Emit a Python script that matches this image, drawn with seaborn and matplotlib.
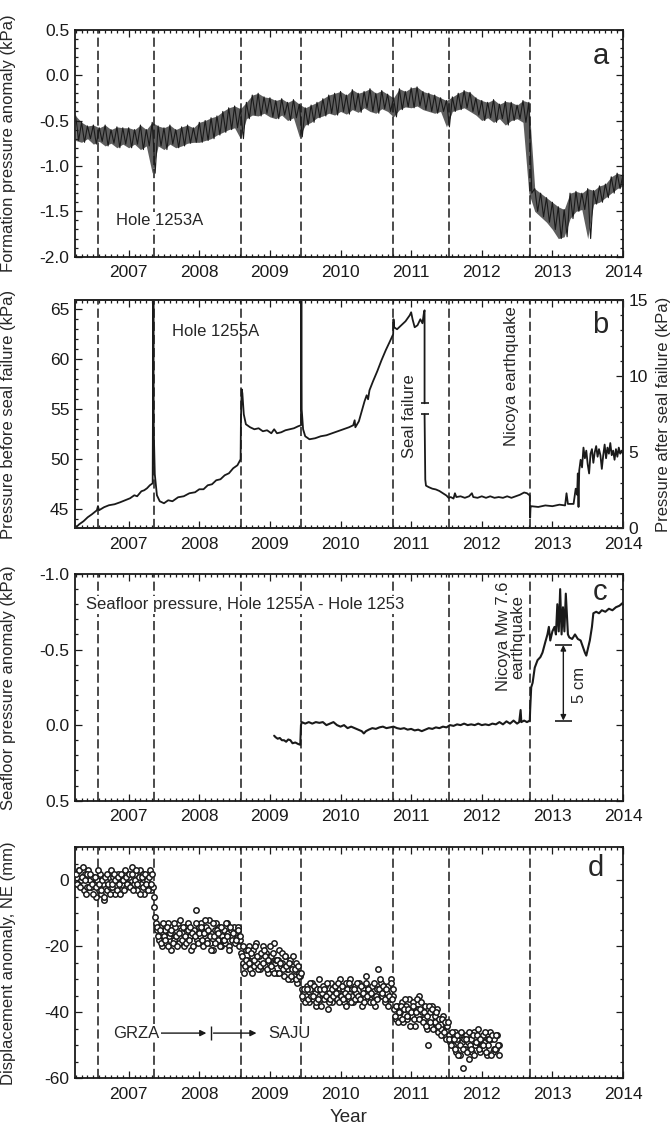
import numpy as np
import pandas as pd
import matplotlib
matplotlib.use("Agg")
import matplotlib.pyplot as plt
from matplotlib.ticker import MultipleLocator, FuncFormatter, FormatStrFormatter
import seaborn as sns

# ---------------------------------------------------------------------------
# Event dates (decimal years): slow-slip events and the 2012 Nicoya earthquake
event_years = [2006.564, 2007.352, 2008.588, 2009.442, 2010.745, 2011.533, 2012.685]

# (a) Hole 1253A formation pressure anomaly (kPa): monthly upper / lower swings
a_first_month = 2006.25
a_high = [-0.45, -0.52, -0.56, -0.55, -0.58, -0.55, -0.60, -0.57, -0.58,
          -0.58, -0.60, -0.55, -0.60, -0.52, -0.56, -0.58, -0.55, -0.60, -0.57, -0.55, -0.58,
          -0.52, -0.50, -0.47, -0.45, -0.40, -0.36, -0.34, -0.37, -0.30, -0.22, -0.20, -0.24,
          -0.25, -0.28, -0.26, -0.30, -0.27, -0.32, -0.36, -0.33, -0.30, -0.26, -0.22, -0.20,
          -0.18, -0.22, -0.16, -0.20, -0.18, -0.15, -0.20, -0.17, -0.21, -0.25, -0.15, -0.18,
          -0.14, -0.13, -0.18, -0.20, -0.22, -0.25, -0.28, -0.24, -0.20, -0.17, -0.19, -0.25,
          -0.28, -0.30, -0.27, -0.32, -0.29, -0.30, -0.33, -0.28, -0.30, -1.25, -1.30, -1.35,
          -1.40, -1.45, -1.48, -1.30, -1.28, -1.30, -1.25, -1.27, -1.22, -1.20, -1.12, -1.08,
          -1.10]
a_low = [-0.72, -0.74, -0.70, -0.76, -0.73, -0.78, -0.75, -0.80, -0.76,
         -0.80, -0.76, -0.82, -0.78, -1.08, -0.78, -0.82, -0.76, -0.80, -0.78, -0.75, -0.74,
         -0.74, -0.72, -0.70, -0.66, -0.63, -0.60, -0.58, -0.70, -0.48, -0.44, -0.45, -0.42,
         -0.46, -0.48, -0.44, -0.50, -0.47, -0.68, -0.55, -0.52, -0.47, -0.45, -0.42, -0.44,
         -0.40, -0.43, -0.38, -0.41, -0.36, -0.40, -0.42, -0.37, -0.40, -0.46, -0.38, -0.35,
         -0.36, -0.34, -0.38, -0.40, -0.42, -0.40, -0.57, -0.40, -0.38, -0.36, -0.40, -0.44,
         -0.50, -0.47, -0.52, -0.48, -0.55, -0.50, -0.48, -0.52, -1.30, -1.50, -1.56, -1.62,
         -1.70, -1.80, -1.78, -1.58, -1.50, -1.48, -1.80, -1.42, -1.40, -1.35, -1.30, -1.25,
         -1.22]

# (b) Hole 1255A pressure before seal failure (left scale, kPa)
b_pre_year = [2006.24, 2006.30, 2006.36, 2006.42, 2006.48, 2006.55, 2006.565, 2006.58,
              2006.65, 2006.72, 2006.80, 2006.88, 2006.95, 2007.02, 2007.08, 2007.12,
              2007.18, 2007.22, 2007.26, 2007.30, 2007.34, 2007.35, 2007.355, 2007.37,
              2007.40, 2007.44, 2007.50, 2007.56, 2007.62, 2007.70, 2007.78, 2007.86,
              2007.94, 2008.00, 2008.06, 2008.12, 2008.18, 2008.24, 2008.30, 2008.36,
              2008.42, 2008.48, 2008.54, 2008.585, 2008.59, 2008.60, 2008.61, 2008.63,
              2008.66, 2008.72, 2008.78, 2008.84, 2008.90, 2008.96, 2009.02, 2009.06,
              2009.10, 2009.16, 2009.22, 2009.28, 2009.34, 2009.40, 2009.44, 2009.445,
              2009.45, 2009.47, 2009.50, 2009.56, 2009.64, 2009.72, 2009.80, 2009.88,
              2009.96, 2010.04, 2010.12, 2010.18, 2010.20, 2010.21, 2010.26, 2010.30,
              2010.34, 2010.37, 2010.39, 2010.41, 2010.46, 2010.52, 2010.58, 2010.64,
              2010.70, 2010.745, 2010.75, 2010.76, 2010.80, 2010.86, 2010.92, 2010.98,
              2011.00, 2011.02, 2011.05, 2011.09, 2011.13, 2011.16, 2011.18, 2011.19,
              2011.19]
b_pre_kpa = [43.1, 43.5, 43.8, 44.2, 44.5, 44.9, 45.3, 44.9,
             45.2, 45.4, 45.5, 45.7, 45.9, 46.1, 46.4, 46.3,
             46.8, 46.9, 47.1, 47.4, 47.6, 67.0, 53.0, 48.5,
             46.4, 45.8, 45.6, 45.9, 45.8, 46.2, 46.3, 46.6,
             46.7, 47.0, 47.0, 47.4, 47.5, 47.9, 48.0, 48.4,
             48.6, 49.1, 49.4, 50.0, 54.0, 57.0, 56.6, 54.5,
             53.5, 53.2, 53.0, 53.1, 52.8, 52.9, 52.6, 53.0,
             52.6, 52.7, 52.9, 53.0, 53.1, 53.3, 53.4, 67.0,
             55.0, 53.0, 52.3, 52.0, 52.1, 52.3, 52.4, 52.6,
             52.8, 53.0, 53.2, 53.4, 53.9, 53.2, 53.8, 54.8,
             55.8, 56.4, 56.0, 56.9, 57.8, 58.8, 59.9, 60.9,
             61.8, 62.5, 64.0, 63.2, 63.0, 63.4, 63.8, 64.4,
             64.7, 64.0, 63.2, 63.4, 64.0, 63.6, 64.6, 64.9,
             55.6]

# (b) Hole 1255A pressure after seal failure (right scale, kPa)
b_post_year = [2011.19, 2011.20, 2011.21, 2011.25, 2011.30, 2011.35, 2011.40, 2011.45,
               2011.50, 2011.53, 2011.56, 2011.60, 2011.62, 2011.64, 2011.70, 2011.76,
               2011.82, 2011.86, 2011.88, 2011.94, 2012.00, 2012.06, 2012.12, 2012.18,
               2012.24, 2012.30, 2012.36, 2012.42, 2012.48, 2012.54, 2012.60, 2012.64,
               2012.68, 2012.685, 2012.69, 2012.70, 2012.80, 2012.90, 2013.00, 2013.10,
               2013.18, 2013.20, 2013.22, 2013.30, 2013.33, 2013.35, 2013.36, 2013.37,
               2013.38, 2013.40, 2013.42, 2013.44, 2013.46, 2013.48, 2013.50, 2013.52,
               2013.54, 2013.56, 2013.58, 2013.60, 2013.62, 2013.64, 2013.66, 2013.68,
               2013.70, 2013.72, 2013.74, 2013.76, 2013.78, 2013.80, 2013.82, 2013.84,
               2013.86, 2013.88, 2013.90, 2013.92, 2013.94, 2013.96, 2013.98, 2014.00]
b_post_kpa = [7.5, 3.2, 2.8, 2.7, 2.6, 2.55, 2.45, 2.3,
              2.15, 2.0, 2.05, 1.95, 2.3, 2.05, 2.1, 2.0,
              2.1, 2.3, 2.05, 2.0, 2.1, 2.0, 2.1, 2.0,
              2.05, 2.0, 2.1, 2.0, 2.1, 2.2, 2.35, 2.3,
              2.15, 0.7, 1.35, 1.45, 1.4, 1.5, 1.45, 1.55,
              1.5, 2.3, 1.6, 1.6, 2.6, 2.2, 3.6, 1.4,
              3.8, 4.5, 4.0, 5.3, 4.6, 5.1, 4.2, 3.6,
              4.9, 5.2, 4.3, 5.0, 5.4, 4.7, 5.2, 4.8,
              3.9, 4.8, 5.5, 4.6, 5.3, 4.9, 5.6, 4.8,
              5.1, 4.5, 5.2, 4.7, 5.3, 4.9, 5.1, 4.9]

# (c) Seafloor pressure difference, Hole 1255A - Hole 1253 (kPa)
c_year = [2009.06, 2009.08, 2009.11, 2009.14, 2009.17, 2009.20, 2009.23, 2009.26,
          2009.29, 2009.32, 2009.36, 2009.40, 2009.43, 2009.44, 2009.45, 2009.50,
          2009.55, 2009.60, 2009.65, 2009.70, 2009.75, 2009.80, 2009.85, 2009.90,
          2009.95, 2010.00, 2010.05, 2010.10, 2010.15, 2010.20, 2010.25, 2010.30,
          2010.33, 2010.36, 2010.40, 2010.45, 2010.50, 2010.55, 2010.60, 2010.65,
          2010.70, 2010.75, 2010.80, 2010.85, 2010.90, 2010.95, 2011.00, 2011.05,
          2011.10, 2011.15, 2011.20, 2011.25, 2011.30, 2011.35, 2011.40, 2011.45,
          2011.50, 2011.55, 2011.60, 2011.65, 2011.70, 2011.75, 2011.80, 2011.85,
          2011.90, 2011.95, 2012.00, 2012.05, 2012.10, 2012.15, 2012.20, 2012.25,
          2012.30, 2012.35, 2012.40, 2012.45, 2012.50, 2012.53, 2012.55, 2012.56,
          2012.60, 2012.64, 2012.68, 2012.685, 2012.70, 2012.72, 2012.75, 2012.79,
          2012.83, 2012.86, 2012.90, 2012.93, 2012.95, 2012.97, 2013.00, 2013.03,
          2013.05, 2013.07, 2013.09, 2013.11, 2013.13, 2013.15, 2013.17, 2013.19,
          2013.22, 2013.24, 2013.28, 2013.32, 2013.36, 2013.40, 2013.43, 2013.46,
          2013.48, 2013.50, 2013.53, 2013.56, 2013.58, 2013.62, 2013.66, 2013.70,
          2013.75, 2013.80, 2013.85, 2013.90, 2013.95, 2014.00]
c_kpa = [0.07, 0.08, 0.09, 0.085, 0.10, 0.10, 0.11, 0.095,
         0.10, 0.12, 0.115, 0.125, 0.13, 0.0, -0.02, -0.01,
         -0.02, -0.01, -0.02, -0.015, -0.02, 0.0, -0.01, -0.02,
         0.0, 0.01, 0.0, 0.02, 0.01, 0.02, 0.03, 0.04,
         0.055, 0.04, 0.03, 0.02, 0.025, 0.015, 0.01, 0.02,
         0.015, 0.01, 0.02, 0.025, 0.02, 0.03, 0.025, 0.035,
         0.03, 0.04, 0.03, 0.02, 0.025, 0.015, 0.02, 0.01,
         0.015, 0.0, 0.005, -0.005, 0.0, -0.01, 0.0, -0.005,
         0.0, -0.01, 0.0, -0.005, 0.0, -0.01, -0.005, -0.02,
         -0.005, -0.025, -0.01, -0.03, -0.01, -0.02, -0.10, -0.02,
         -0.03, -0.02, -0.03, -0.10, -0.25, -0.28, -0.38, -0.43,
         -0.45, -0.48, -0.55, -0.60, -0.65, -0.56, -0.62, -0.65,
         -0.60, -0.80, -0.62, -0.90, -0.60, -0.78, -0.62, -0.87,
         -0.60, -0.58, -0.57, -0.60, -0.57, -0.56, -0.52, -0.48,
         -0.46, -0.50, -0.56, -0.65, -0.74, -0.75, -0.74, -0.76,
         -0.75, -0.77, -0.76, -0.78, -0.79, -0.81]

# (d) GPS displacement anomaly, NE component (mm): eight samples per month,
#     stored as two interleaved sets of four
d_first_month = 2006.25
d_disp_mm = [
    # 2006 Apr-Dec
    2, -1, 3, 0, 1, -3, 2, -2, 3, 0, -2, 1, -1, -5, 0, -3, 2, -4, -1, -6,
    0, -3, 1, -2, -2, 1, -4, 0, 2, -1, -3, 1, 0, 3, -2, -1,
    # 2007
    1, -2, 4, -1, 2, -3, 0, 3, -1, 2, -4, 1, 0, -2, 3, -3, -2, -8, -13, -15,
    -18, -14, -20, -16, -15, -19, -13, -17, -21, -16, -18, -14, -17, -13, -19, -15,
    -16, -20, -14, -18, -13, -17, -21, -16, -15, -9, -18, -14,
    # 2008
    -17, -13, -20, -16, -14, -18, -12, -19, -16, -21, -15, -13, -18, -14, -20, -17,
    -15, -19, -13, -16, -20, -15, -17, -14, -16, -19, -14, -18, -22, -25, -28, -21,
    -24, -20, -27, -23, -21, -26, -19, -25, -23, -27, -22, -20, -26, -22, -28, -24,
    # 2009
    -23, -27, -19, -25, -28, -24, -21, -26, -25, -29, -23, -27, -27, -24, -30, -26,
    -29, -25, -31, -28, -29, -33, -36, -34, -35, -32, -37, -33, -31, -36, -34, -38,
    -33, -30, -36, -34, -36, -32, -35, -39, -34, -31, -37, -33, -32, -36, -34, -30,
    # 2010
    -35, -33, -37, -31, -33, -36, -30, -35, -37, -32, -34, -36, -31, -35, -38, -33,
    -34, -29, -36, -33, -36, -32, -35, -38, -33, -27, -35, -31, -35, -32, -37, -34,
    -32, -36, -30, -35, -39, -42, -38, -41, -40, -37, -43, -39, -38, -42, -36, -41,
    # 2011
    -41, -37, -44, -39, -39, -35, -42, -40, -42, -38, -45, -50, -40, -44, -38, -43,
    -43, -39, -46, -42, -45, -41, -47, -44, -44, -47, -49, -48, -50, -46, -52, -48,
    -47, -53, -49, -57, -51, -47, -49, -54, -48, -52, -46, -50, -49, -45, -52, -48,
    # 2012 Jan-Mar
    -47, -51, -49, -53, -50, -46, -48, -52, -48, -51, -47, -50,
]
d_disp_mm_b = [
    # 2006 Apr-Dec
    -1, 3, -2, 1, 4, 0, -4, 2, -2, 2, -1, -4, 1, -2, 3, -1, -3, 0, -5, 1,
    2, -1, -4, 3, -1, 2, 0, -3, 1, -4, 2, 0, -3, 1, -1, 2,
    # 2007
    -2, 2, -3, 0, 3, -1, 1, -4, 1, -2, 2, -1, -3, 1, -1, 2, -5, -11, -14, -17,
    -15, -19, -13, -17, -18, -14, -20, -16, -15, -19, -13, -17, -20, -16, -12, -18,
    -14, -17, -19, -15, -18, -14, -16, -20, -17, -13, -19, -16,
    # 2008
    -14, -18, -16, -12, -19, -15, -17, -21, -13, -17, -19, -15, -16, -20, -14, -18,
    -18, -13, -17, -21, -14, -18, -16, -19, -18, -15, -20, -17, -23, -20, -26, -24,
    -21, -25, -22, -28, -24, -20, -23, -27, -26, -22, -25, -21, -23, -27, -24, -20,
    # 2009
    -26, -22, -28, -24, -24, -28, -25, -22, -27, -23, -26, -30, -25, -29, -27, -23,
    -27, -30, -26, -29, -28, -35, -33, -37, -33, -36, -31, -35, -35, -32, -37, -33,
    -36, -33, -38, -32, -33, -35, -31, -37, -36, -33, -35, -32, -34, -31, -37, -35,
    # 2010
    -32, -36, -34, -38, -35, -31, -37, -33, -33, -36, -31, -35, -36, -32, -34, -37,
    -31, -35, -33, -37, -34, -37, -31, -35, -36, -33, -30, -34, -32, -36, -33, -38,
    -35, -31, -36, -33, -41, -38, -43, -40, -38, -42, -39, -36, -41, -39, -44, -40,
    # 2011
    -38, -42, -40, -36, -42, -39, -37, -43, -40, -44, -41, -38, -43, -39, -45, -41,
    -40, -44, -42, -47, -42, -46, -43, -48, -43, -48, -50, -46, -48, -51, -47, -53,
    -50, -46, -51, -48, -48, -52, -46, -50, -51, -47, -53, -49, -47, -51, -48, -50,
    # 2012 Jan-Mar
    -50, -46, -52, -48, -48, -53, -47, -51, -51, -47, -50, -53,
]

year_ticks = [2007, 2008, 2009, 2010, 2011, 2012, 2013, 2014]
five_cm_kpa = 0.5          # ~5 cm of water column
five_cm_base = -0.03

# ---------------------------------------------------------------------------
sns.set_theme(style="ticks")
plt.rcParams["font.family"] = ["Liberation Sans", "DejaVu Sans"]
plt.rcParams["axes.unicode_minus"] = False

TICK_FS = 12.5
LABEL_FS = 12
TEXT_FS = 12
PANEL_FS = 21
WHITE_BOX = dict(facecolor="white", edgecolor="none", pad=1.0)

fig = plt.figure(figsize=(6.72, 11.29), dpi=100)
fig.patch.set_facecolor("white")
L, W = 0.1116, 0.8155
ax_a = fig.add_axes([L, 0.7726, W, 0.2011])
ax_b = fig.add_axes([L, 0.5321, W, 0.2022])
ax_c = fig.add_axes([L, 0.2908, W, 0.2008])
ax_d = fig.add_axes([L, 0.0449, W, 0.2046])

year_fmt = FuncFormatter(lambda v, p: f"{v:.0f}")


def frame(ax, right=True):
    ax.set_facecolor("white")
    ax.set_xlim(2006.24, 2014.0)
    ax.set_xticks(year_ticks)
    ax.xaxis.set_major_formatter(year_fmt)
    ax.xaxis.set_minor_locator(MultipleLocator(1 / 12))
    ax.tick_params(which="both", direction="in", top=True, right=right,
                   color="k", width=0.9, labelsize=TICK_FS, labelcolor="k")
    ax.tick_params(which="major", length=5)
    ax.tick_params(which="minor", length=2.5)
    ax.tick_params(axis="x", which="major", pad=6)
    ax.tick_params(axis="y", which="major", pad=4)
    for s in ax.spines.values():
        s.set_color("k")
        s.set_linewidth(1.3)
        s.set_visible(True)
    for e in event_years:
        ax.axvline(e, color="k", lw=1.1, ls=(0, (6, 2.6)), zorder=1)
    ax.set_xlabel("")


# ---- (a) ----
frame(ax_a)
k = np.arange(len(a_high))
t_hi = a_first_month + k / 12
t_lo = t_hi + 1 / 24
df_a = pd.DataFrame({"year": np.column_stack([t_hi, t_lo]).ravel(),
                     "kpa": np.column_stack([a_high, a_low]).ravel()})
ax_a.fill_between(t_hi, a_high, a_low, color="k", alpha=0.7, lw=0, zorder=2)
sns.lineplot(data=df_a, x="year", y="kpa", ax=ax_a, color="k", lw=0.8,
             sort=False, estimator=None, zorder=3)
ax_a.set_ylim(-2.0, 0.5)
ax_a.yaxis.set_major_locator(MultipleLocator(0.5))
ax_a.yaxis.set_minor_locator(MultipleLocator(0.1))
ax_a.yaxis.set_major_formatter(FormatStrFormatter("%.1f"))
ax_a.set_xlabel("")
ax_a.set_ylabel("Formation pressure anomaly (kPa)", fontsize=LABEL_FS)
ax_a.yaxis.set_label_coords(-0.108, 0.5)
ax_a.text(2006.82, -1.6, "Hole 1253A", fontsize=TEXT_FS, ha="left", va="center",
          bbox=WHITE_BOX, zorder=5)
ax_a.text(2013.69, 0.21, "a", fontsize=PANEL_FS, ha="center", va="center")

# ---- (b) ----
frame(ax_b, right=False)
df_b1 = pd.DataFrame({"year": b_pre_year, "kpa": b_pre_kpa})
sns.lineplot(data=df_b1, x="year", y="kpa", ax=ax_b, color="k", lw=1.3,
             sort=False, estimator=None, zorder=3)
ax_b.set_ylim(43.1, 65.93)
ax_b.yaxis.set_major_locator(MultipleLocator(5))
ax_b.yaxis.set_minor_locator(MultipleLocator(1))
ax_b.set_xlabel("")
ax_b.set_ylabel("Pressure before seal failure (kPa)", fontsize=LABEL_FS)
ax_b.yaxis.set_label_coords(-0.108, 0.5)
ax_b2 = ax_b.twinx()
df_b2 = pd.DataFrame({"year": b_post_year, "kpa": b_post_kpa})
sns.lineplot(data=df_b2, x="year", y="kpa", ax=ax_b2, color="k", lw=1.3,
             sort=False, estimator=None, zorder=3)
ax_b2.set_xlim(2006.24, 2014.0)
ax_b2.set_ylim(0, 15)
ax_b2.yaxis.set_major_locator(MultipleLocator(5))
ax_b2.yaxis.set_minor_locator(MultipleLocator(1))
ax_b2.tick_params(which="both", direction="in", right=True, color="k",
                  width=0.9, labelsize=TICK_FS, labelcolor="k", pad=4)
ax_b2.tick_params(which="major", length=5)
ax_b2.tick_params(which="minor", length=2.5)
ax_b2.set_xlabel("")
ax_b2.set_ylabel("Pressure after seal failure (kPa)", fontsize=LABEL_FS,
                 rotation=90)
ax_b2.yaxis.set_label_coords(1.06, 0.5)
# break marks where the line switches from the left to the right scale
ax_b.plot([b_pre_year[-1]], [b_pre_kpa[-1]], marker="_", ms=6, mew=1.2, color="k")
ax_b2.plot([b_post_year[0]], [b_post_kpa[0]], marker="_", ms=6, mew=1.2, color="k")
ax_b.text(2010.98, 54.3, "Seal failure", fontsize=TEXT_FS, rotation=90,
          ha="center", va="center")
ax_b.text(2007.61, 62.8, "Hole 1255A", fontsize=TEXT_FS, ha="left", va="center")
ax_b.text(2012.42, 58.3, "Nicoya earthquake", fontsize=TEXT_FS, rotation=90,
          ha="center", va="center")
ax_b.text(2013.67, 63.4, "b", fontsize=PANEL_FS, ha="center", va="center")

# ---- (c) ----
frame(ax_c)
df_c = pd.DataFrame({"year": c_year, "kpa": c_kpa})
sns.lineplot(data=df_c, x="year", y="kpa", ax=ax_c, color="k", lw=1.5,
             sort=False, estimator=None, zorder=3)
ax_c.set_ylim(0.5, -1.0)
ax_c.yaxis.set_major_locator(MultipleLocator(0.5))
ax_c.yaxis.set_minor_locator(MultipleLocator(0.1))
ax_c.yaxis.set_major_formatter(FormatStrFormatter("%.1f"))
ax_c.set_xlabel("")
ax_c.set_ylabel("Seafloor pressure anomaly (kPa)", fontsize=LABEL_FS)
ax_c.yaxis.set_label_coords(-0.108, 0.5)
ax_c.text(2006.39, -0.795, "Seafloor pressure, Hole 1255A - Hole 1253",
          fontsize=TEXT_FS, ha="left", va="center", bbox=WHITE_BOX, zorder=5)
ax_c.text(2012.41, -0.585, "Nicoya Mw 7.6\nearthquake", fontsize=TEXT_FS,
          rotation=90, ha="center", va="center", multialignment="center",
          linespacing=1.0)
top5 = five_cm_base - five_cm_kpa
ax_c.hlines([top5, five_cm_base], 2013.03, 2013.28, color="k", lw=1.2, zorder=4)
ax_c.annotate("", xy=(2013.155, top5), xytext=(2013.155, five_cm_base),
              arrowprops=dict(arrowstyle="<|-|>", color="k", lw=1.0,
                              mutation_scale=8, shrinkA=0, shrinkB=0), zorder=4)
ax_c.text(2013.39, -0.265, "5 cm", fontsize=TEXT_FS, rotation=90,
          ha="center", va="center")
ax_c.text(2013.67, -0.88, "c", fontsize=PANEL_FS, ha="center", va="center")

# ---- (d) ----
frame(ax_d)
d_year = d_first_month + (np.arange(len(d_disp_mm)) + 0.5) / 48
df_d = pd.DataFrame({"year": np.concatenate([d_year, d_year + 1 / 96]),
                     "mm": d_disp_mm + d_disp_mm_b})
sns.scatterplot(data=df_d, x="year", y="mm", ax=ax_d, s=15, marker="o",
                color="k", linewidth=1.1, zorder=3, legend=False)
pts = ax_d.collections[-1]
pts.set_facecolor("white")
pts.set_edgecolor("k")
ax_d.set_ylim(-60, 10)
ax_d.yaxis.set_major_locator(MultipleLocator(20))
ax_d.yaxis.set_minor_locator(MultipleLocator(5))
ax_d.set_ylabel("Displacement anomaly, NE (mm)", fontsize=LABEL_FS)
ax_d.yaxis.set_label_coords(-0.108, 0.5)
ax_d.set_xlabel("Year", fontsize=LABEL_FS + 1.5, labelpad=5)
ax_d.text(2006.78, -46.3, "GRZA", fontsize=TEXT_FS, ha="left", va="center",
          bbox=WHITE_BOX, zorder=5)
ax_d.annotate("", xy=(2008.10, -46.3), xytext=(2007.44, -46.3),
              arrowprops=dict(arrowstyle="-|>", color="k", lw=1.0,
                              mutation_scale=9, shrinkA=0, shrinkB=0))
ax_d.vlines(2008.16, -44.3, -48.3, color="k", lw=1.0)
ax_d.annotate("", xy=(2008.81, -46.3), xytext=(2008.20, -46.3),
              arrowprops=dict(arrowstyle="-|>", color="k", lw=1.0,
                              mutation_scale=9, shrinkA=0, shrinkB=0))
ax_d.text(2008.97, -46.3, "SAJU", fontsize=TEXT_FS, ha="left", va="center",
          bbox=WHITE_BOX, zorder=5)
ax_d.text(2013.62, 3.8, "d", fontsize=PANEL_FS, ha="center", va="center")

fig.savefig("out.png", dpi=100, facecolor="white")
